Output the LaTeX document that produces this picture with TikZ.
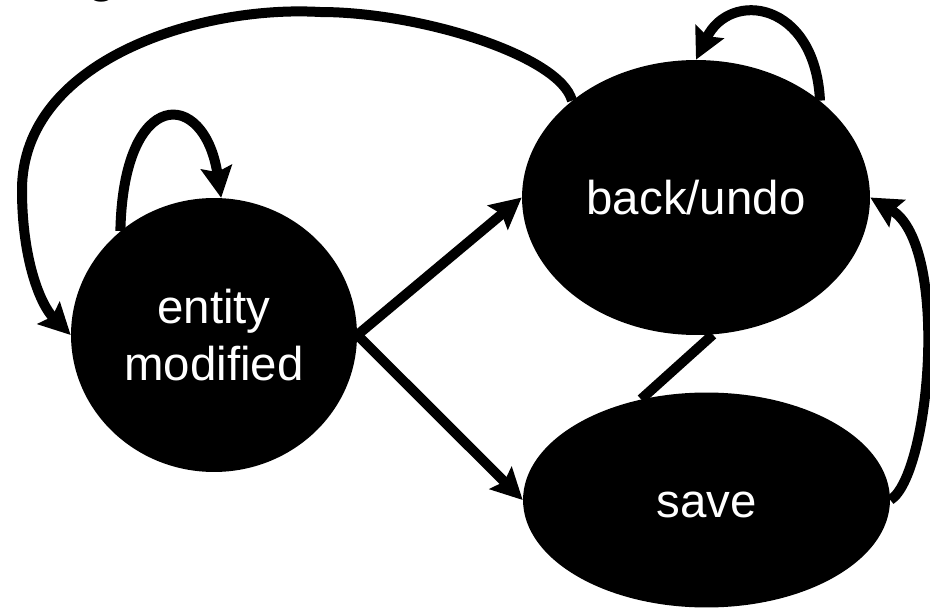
\documentclass[tikz,border=0pt]{standalone}
\usepackage{fontspec}
\setmainfont{Liberation Sans}
\usetikzlibrary{shapes.geometric, arrows.meta, positioning}

\begin{document}
\begin{tikzpicture}[x=0.02cm, y=-0.02cm,
    state/.style={ellipse, fill=black, text=white, inner sep=0pt, font=\fontsize{27}{32.4}\selectfont},
    oneline/.style={text height=0.7cm, text depth=0pt},
    trans/.style={line width=0.2cm, -{Stealth[length=0.62cm, width=0.62cm, inset=0.1cm]}}]
  \useasboundingbox (0,0) rectangle (930,608);

  % cut-off heading
  \node[anchor=base, inner sep=0pt, font=\fontsize{32}{38}\selectfont] (head) at (102,-9) {g};

  % states
  \node[state, align=center, minimum width=5.72cm, minimum height=5.48cm] (entity) at (214,335) {entity\\modified};
  \node[state, oneline, minimum width=6.96cm, minimum height=5.5cm] (back) at (696,197.5) {back/undo};
  \node[state, oneline, minimum width=7.34cm, minimum height=4.3cm] (save) at (706.5,500) {save};

  % transitions
  \draw[trans] (entity.east) -- (back.west);
  \draw[trans] (entity.east) -- (save.west);
  \draw[line width=0.2cm] (back.-83) -- (save.123);
  \draw[trans] (save.east) .. controls +(40,-25) and +(80,47.5) .. (back.east);

  % self loops
  \draw[trans] (entity.132) .. controls +(3,-145) and +(-17,-110) .. (entity.87);
  \draw[trans] (back.38) .. controls +(-5,-100) and +(34,-70) .. (back.north);

  % long way back
  \coordinate (looptop) at (320,12);
  \coordinate (loopleft) at (22,190);
  \draw[trans] (back.142) .. controls +(-12,-45) and +(100,0) .. (looptop)
    .. controls +(-120,-7) and +(0,-130) .. (loopleft)
    .. controls +(0,70) and +(-30,-30) .. (entity.west);
\end{tikzpicture}
\end{document}
